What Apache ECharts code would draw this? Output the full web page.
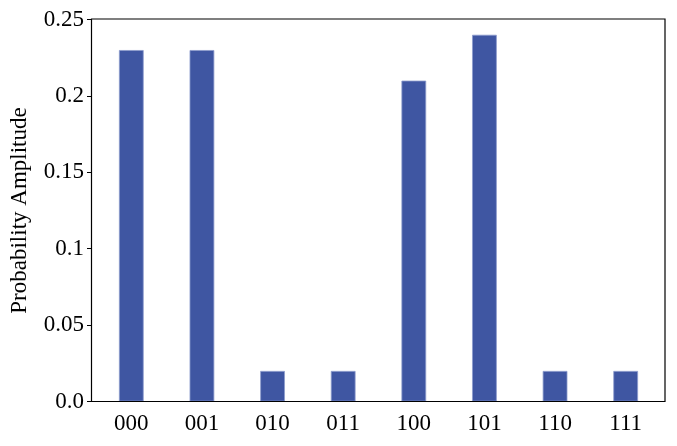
<!DOCTYPE html>
<html>
<head>
<meta charset="utf-8">
<script src="https://cdn.jsdelivr.net/npm/echarts@6/dist/echarts.min.js"></script>
<style>
html, body { margin: 0; padding: 0; background: #fff; }
#chart { width: 677px; height: 446px; }
</style>
</head>
<body>
<div id="chart"></div>
<script>
// basis states and measured amplitudes
const states = ['000', '001', '010', '011', '100', '101', '110', '111'];
const amplitudes = [0.23, 0.23, 0.02, 0.02, 0.21, 0.24, 0.02, 0.02];
const yTicks = [0, 0.05, 0.1, 0.15, 0.2, 0.25];

const font = 'Liberation Serif';
const myChart = echarts.init(document.getElementById('chart'));

const option = {
    animation: false,
    grid: { left: 95.5, right: 16, top: 19.5, bottom: 44.5 },
    xAxis: {
        type: 'category',
        data: states,
        axisLine: { show: false },
        axisTick: { alignWithLabel: true, length: 5, lineStyle: { color: '#000' } },
        axisLabel: { color: '#000', fontFamily: font, fontSize: 23, margin: 11 },
    },
    yAxis: {
        type: 'value',
        min: 0,
        max: 0.25,
        interval: 0.05,
        offset: 4,
        name: 'Probability Amplitude',
        nameLocation: 'middle',
        nameGap: 61,
        nameTextStyle: { color: '#000', fontFamily: font, fontSize: 23 },
        axisLine: { show: false },
        axisTick: { show: true, length: 5, lineStyle: { color: '#000' } },
        splitLine: { show: false },
        axisLabel: {
            color: '#000', fontFamily: font, fontSize: 23, margin: 8,
            formatter: (v) => {
                // matplotlib-like tick text
                const t = yTicks.find((x) => Math.abs(x - v) < 1e-9);
                if (t === 0) return '0.0';
                return String(+v.toFixed(2));
            },
        },
    },
    series: [
        {
            type: 'bar',
            data: amplitudes,
            barWidth: '35%',
            itemStyle: { color: '#3f56a2', borderColor: '#8d9ccd', borderWidth: 0.8 },
        },
    ],
    graphic: [
        {
            // axes frame
            type: 'rect',
            shape: { x: 91.5, y: 19, width: 573.5, height: 382.5 },
            style: { fill: 'none', stroke: '#000', lineWidth: 1.2 },
            z: 10,
        },
    ],
};

myChart.setOption(option);
</script>
</body>
</html>
